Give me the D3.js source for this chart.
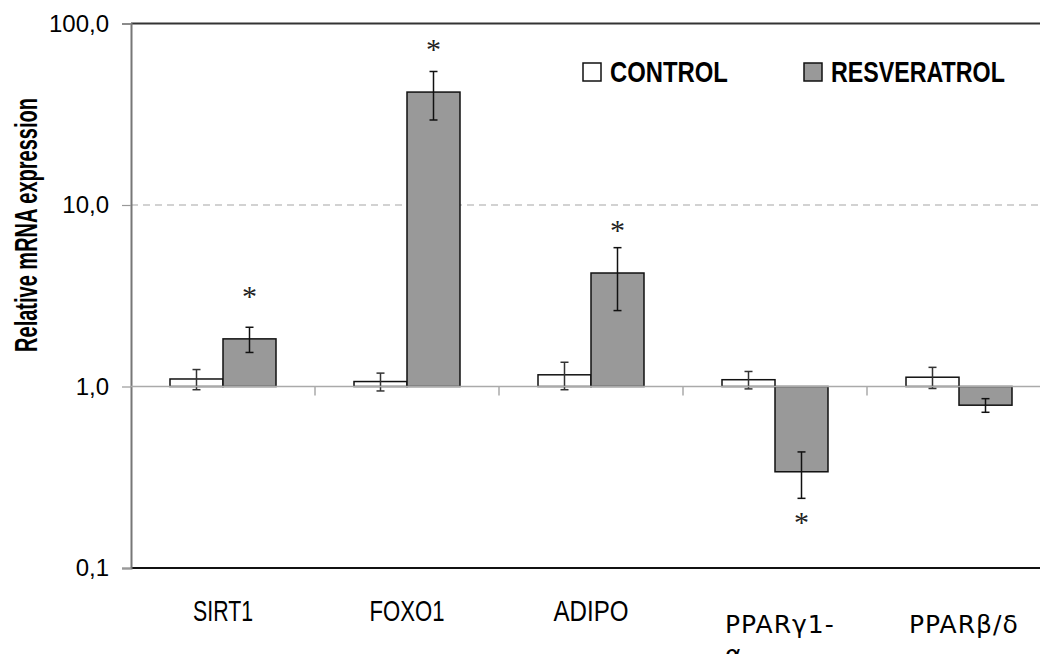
<!DOCTYPE html>
<html>
<head>
<meta charset="utf-8">
<script src="https://cdn.jsdelivr.net/npm/d3@7/dist/d3.min.js"></script>
<style>
  body { margin: 0; background: #fff; }
</style>
</head>
<body>
<div id="chart"></div>
<script>
// chart data
const categories = ["SIRT1", "FOXO1", "ADIPO", "PPARγ1-α", "PPARβ/δ"];
const seriesNames = ["CONTROL", "RESVERATROL"];
const control = [1.10, 1.065, 1.16, 1.09, 1.125];
const controlErr = [0.14, 0.12, 0.20, 0.12, 0.15];
const resveratrol = [1.83, 41.9, 4.22, 0.339, 0.789];
const resveratrolErr = [0.29, 12.5, 1.6, 0.097, 0.068];
const significant = [true, true, true, true, false];
const yTicks = [0.1, 1, 10, 100];
const yTickLabels = ["0,1", "1,0", "10,0", "100,0"];

const width = 1040;
const height = 654;
const plotLeft = 131, plotTop = 23.5, plotBottom = 568, band = 184;

const svg = d3.select("#chart").append("svg")
    .attr("width", width)
    .attr("height", height);

const y = d3.scaleLog().domain([0.1, 100]).range([plotBottom, plotTop]);
const x = d3.scaleBand().domain(categories).range([plotLeft, plotLeft + band * categories.length]);
const x1 = d3.scaleBand().domain(seriesNames).range([39, 145]);

const sans = "'Liberation Sans', Arial, sans-serif";

// the original uses a squeezed Arial: scale text horizontally to a given width
function squeeze(sel, pre, target) {
    sel.each(function(d, i) {
        const w = this.getComputedTextLength();
        const s = target(d, i) / w;
        d3.select(this).attr("transform", `${pre(d, i)} scale(${s},1)`);
    });
}

// gridline at 10 (dashed)
svg.append("line")
    .attr("x1", plotLeft).attr("x2", width)
    .attr("y1", y(10)).attr("y2", y(10))
    .attr("stroke", "#a6a6a6").attr("stroke-width", 1.2)
    .attr("stroke-dasharray", "7,5");

// top border line at 100
svg.append("line")
    .attr("x1", plotLeft).attr("x2", width)
    .attr("y1", y(100)).attr("y2", y(100))
    .attr("stroke", "#333").attr("stroke-width", 2);

// bottom border at 0.1
svg.append("line")
    .attr("x1", plotLeft).attr("x2", width)
    .attr("y1", y(0.1)).attr("y2", y(0.1))
    .attr("stroke", "#111").attr("stroke-width", 2);

// y axis
const yAxis = svg.append("g")
    .attr("transform", `translate(${plotLeft},0)`)
    .call(d3.axisLeft(y).tickValues(yTicks).tickSize(9).tickFormat((d, i) => yTickLabels[i]));
yAxis.select(".domain").attr("stroke", "#777").attr("stroke-width", 2);
yAxis.selectAll(".tick line").attr("stroke", "#999").attr("stroke-width", 1.2);
yAxis.selectAll(".tick text")
    .attr("x", -22)
    .attr("font-family", sans)
    .attr("font-size", 24)
    .attr("fill", "#000");

// bars
const rows = categories.map((c, i) => ({
    cat: c, i,
    vals: [
        {s: "CONTROL", v: control[i], e: controlErr[i]},
        {s: "RESVERATROL", v: resveratrol[i], e: resveratrolErr[i]}
    ]
}));

const groups = svg.append("g").selectAll("g")
    .data(rows)
    .join("g")
    .attr("transform", d => `translate(${x(d.cat)},0)`);

groups.selectAll("rect")
    .data(d => d.vals)
    .join("rect")
    .attr("x", d => x1(d.s))
    .attr("width", x1.bandwidth())
    .attr("y", d => Math.min(y(d.v), y(1)))
    .attr("height", d => Math.abs(y(d.v) - y(1)))
    .attr("fill", d => d.s === "CONTROL" ? "#fff" : "#999999")
    .attr("stroke", "#111")
    .attr("stroke-width", 1.5);

// baseline at 1.0 with category ticks
svg.append("line")
    .attr("x1", plotLeft).attr("x2", width)
    .attr("y1", y(1)).attr("y2", y(1))
    .attr("stroke", "#aaa").attr("stroke-width", 1.5);
svg.append("g").selectAll("line")
    .data(categories.slice(1))
    .join("line")
    .attr("x1", d => x(d)).attr("x2", d => x(d))
    .attr("y1", y(1)).attr("y2", y(1) + 9)
    .attr("stroke", "#aaa").attr("stroke-width", 1.5);

// error bars
const err = groups.selectAll("g.err")
    .data(d => d.vals)
    .join("g")
    .attr("class", "err")
    .attr("stroke", d => d.s === "CONTROL" ? "#333" : "#111")
    .attr("stroke-width", 1.5);
const cx = d => x1(d.s) + x1.bandwidth() / 2;
err.append("line")
    .attr("x1", cx).attr("x2", cx)
    .attr("y1", d => y(d.v + d.e)).attr("y2", d => y(d.v - d.e));
err.append("line")
    .attr("x1", d => cx(d) - 4).attr("x2", d => cx(d) + 4)
    .attr("y1", d => y(d.v + d.e)).attr("y2", d => y(d.v + d.e));
err.append("line")
    .attr("x1", d => cx(d) - 4).attr("x2", d => cx(d) + 4)
    .attr("y1", d => y(d.v - d.e)).attr("y2", d => y(d.v - d.e));

// significance stars, ~46px beyond the bar end
groups.filter(d => significant[d.i])
    .append("text")
    .attr("x", x1("RESVERATROL") + x1.bandwidth() / 2)
    .attr("y", d => {
        const r = d.vals[1];
        return (r.v >= 1 ? y(r.v) - 46 : y(r.v) + 47) + 13;
    })
    .attr("text-anchor", "middle")
    .attr("font-family", "'Liberation Serif', 'Times New Roman', serif")
    .attr("font-size", 30)
    .attr("fill", "#222")
    .text("*");

// category labels
const labelWidths = {SIRT1: 60, FOXO1: 75, ADIPO: 75};
const lab = svg.append("g").selectAll("text")
    .data(categories)
    .join("text");
lab.filter(d => !d.startsWith("PPAR"))
    .attr("text-anchor", "middle")
    .attr("font-family", sans)
    .attr("font-size", 29)
    .text(d => d)
    .call(squeeze, d => `translate(${x(d) + band / 2},621)`, d => labelWidths[d]);
lab.filter(d => d.startsWith("PPAR"))
    .attr("font-family", "'DejaVu Sans', sans-serif")
    .attr("font-size", 25)
    .attr("letter-spacing", 1)
    .each(function(d) {
        const parts = d.includes("-") ? [d.slice(0, d.indexOf("-") + 1), d.slice(d.indexOf("-") + 1)] : [d];
        const t = d3.select(this);
        parts.forEach((p, k) => {
            t.append("tspan").attr("x", x(d) + 42).attr("y", 633 + k * 30).text(p);
        });
    });

// y axis title
svg.append("text")
    .attr("text-anchor", "middle")
    .attr("font-family", sans)
    .attr("font-weight", "bold")
    .attr("font-size", 32)
    .text("Relative mRNA expression")
    .call(squeeze, () => "translate(37,225) rotate(-90)", () => 254);

// legend
const legendX = [583, 804];
const legendWidths = [118, 174];
const legend = svg.append("g").selectAll("g")
    .data(seriesNames)
    .join("g")
    .attr("transform", (d, i) => `translate(${legendX[i]},63)`);
legend.append("rect")
    .attr("width", 18).attr("height", 18)
    .attr("fill", (d, i) => i === 0 ? "#fff" : "#999999")
    .attr("stroke", "#111").attr("stroke-width", 1.5);
legend.append("text")
    .attr("font-family", sans)
    .attr("font-weight", "bold")
    .attr("font-size", 29)
    .text(d => d)
    .call(squeeze, () => "translate(27,18.5)", (d, i) => legendWidths[i]);
</script>
</body>
</html>
